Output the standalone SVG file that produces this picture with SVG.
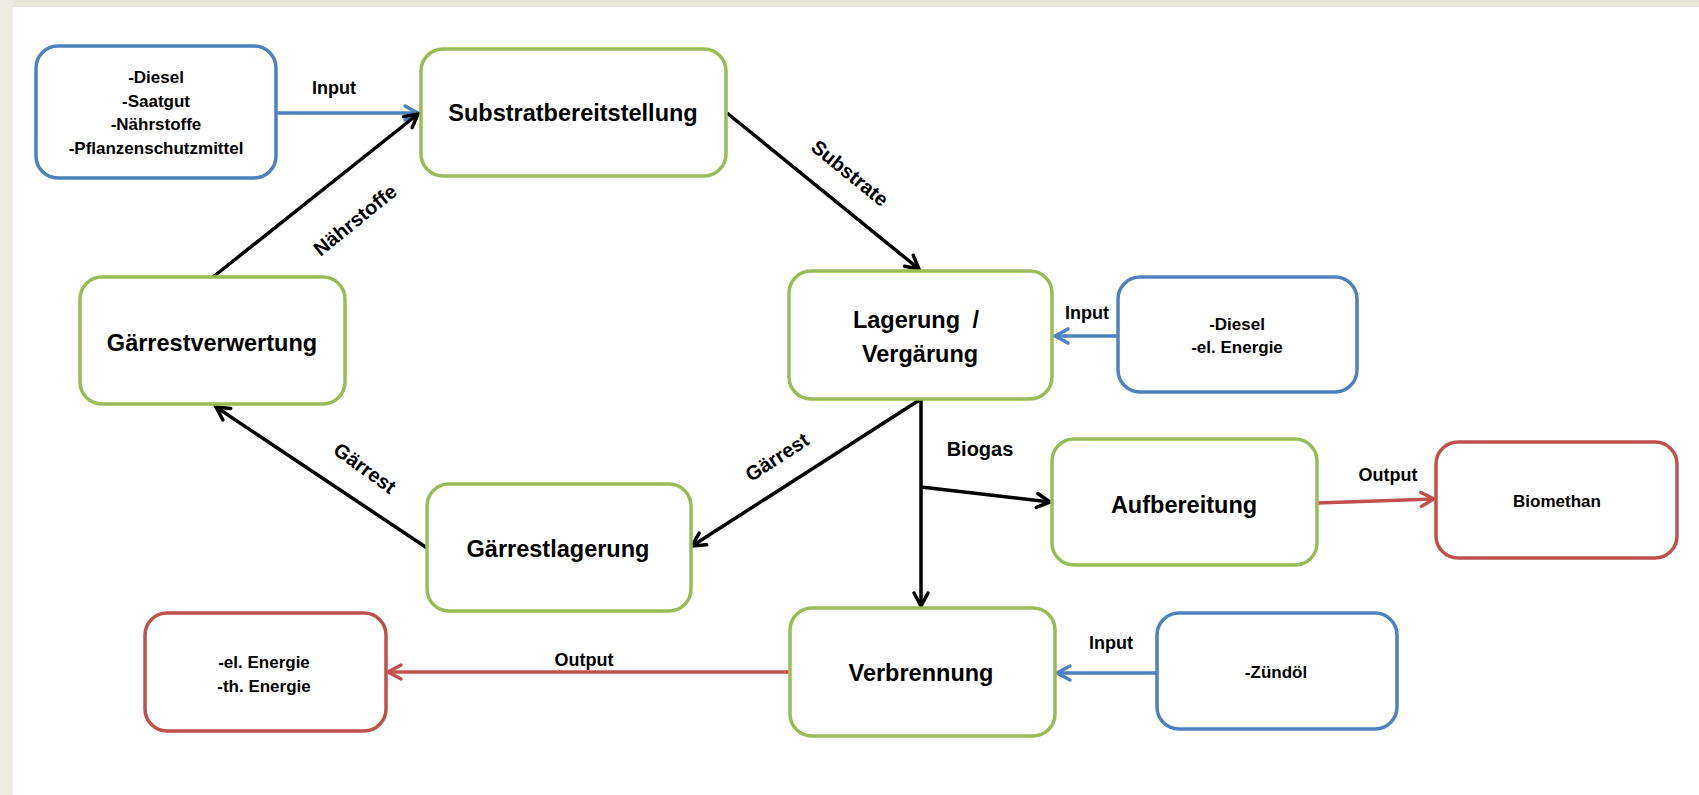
<svg xmlns="http://www.w3.org/2000/svg" width="1699" height="795" viewBox="0 0 1699 795">
<style>
.box{fill:#fff;stroke-width:3.5}
.g{stroke:#9BBB59}
.b{stroke:#4F81BD}
.r{stroke:#C0504D}
text{font-family:"Liberation Sans",Arial,sans-serif;font-weight:bold;fill:#000;text-anchor:middle}
.big{font-size:23.5px}
.sm{font-size:17px}
.el{font-size:18px}
.lab{font-size:20px}
.rot{font-size:20px;dominant-baseline:central}
.ln{fill:none;stroke-width:3.5}
.k{stroke:#000}
</style>
<defs>
<marker id="ak" markerUnits="userSpaceOnUse" markerWidth="30" markerHeight="30" refX="0" refY="0" orient="auto" overflow="visible" viewBox="-20 -15 30 30"><path d="M-13,-7 L0,0 L-13,7" fill="none" stroke="#000" stroke-width="3.5" stroke-linecap="round" stroke-linejoin="miter"/></marker>
<marker id="ab" markerUnits="userSpaceOnUse" markerWidth="30" markerHeight="30" refX="0" refY="0" orient="auto" overflow="visible" viewBox="-20 -15 30 30"><path d="M-13,-7 L0,0 L-13,7" fill="none" stroke="#4F81BD" stroke-width="3.5" stroke-linecap="round"/></marker>
<marker id="ar" markerUnits="userSpaceOnUse" markerWidth="30" markerHeight="30" refX="0" refY="0" orient="auto" overflow="visible" viewBox="-20 -15 30 30"><path d="M-13,-7 L0,0 L-13,7" fill="none" stroke="#C0504D" stroke-width="3.5" stroke-linecap="round"/></marker>
</defs>
<rect x="0" y="0" width="1699" height="795" fill="#fff"/>
<rect x="0" y="0" width="1699" height="7" fill="#ECE7DE"/>
<rect x="0" y="0" width="13" height="795" fill="#EEEBE4"/>

<g id="connectors">
<line class="ln b" x1="277" y1="113" x2="418" y2="113" marker-end="url(#ab)"/>
<line class="ln b" x1="1118" y1="336" x2="1055" y2="336" marker-end="url(#ab)"/>
<line class="ln b" x1="1156" y1="673" x2="1057" y2="673" marker-end="url(#ab)"/>
<line class="ln r" x1="1317" y1="503" x2="1434" y2="499" marker-end="url(#ar)"/>
<line class="ln r" x1="790" y1="672" x2="388" y2="672" marker-end="url(#ar)"/>
<line class="ln k" x1="727" y1="113" x2="919" y2="269" marker-end="url(#ak)"/>
<line class="ln k" x1="213" y1="277" x2="418" y2="114" marker-end="url(#ak)"/>
<line class="ln k" x1="427" y1="548" x2="216" y2="407" marker-end="url(#ak)"/>
<line class="ln k" x1="921" y1="399" x2="692" y2="546" marker-end="url(#ak)"/>
<line class="ln k" x1="921" y1="399" x2="921" y2="606" marker-end="url(#ak)"/>
<line class="ln k" x1="921" y1="487" x2="1050" y2="502" marker-end="url(#ak)"/>
<text class="el" x="334" y="94">Input</text>
<text class="el" x="1087" y="319">Input</text>
<text class="el" x="1111" y="649">Input</text>
<text class="el" x="1388" y="481">Output</text>
<text class="el" x="584" y="666">Output</text>
<text class="lab" x="980" y="456">Biogas</text>
<text class="rot" transform="translate(850,173) rotate(39)">Substrate</text>
<text class="rot" transform="translate(355,220) rotate(-39)">Nährstoffe</text>
<text class="rot" transform="translate(365,468) rotate(36)">Gärrest</text>
<text class="rot" transform="translate(777,457) rotate(-33)">Gärrest</text>
</g>

<g id="input1">
<rect class="box b" x="36" y="46" width="240" height="132" rx="22"/>
<text class="sm" x="156" y="83">-Diesel</text>
<text class="sm" x="156" y="107">-Saatgut</text>
<text class="sm" x="156" y="130">-Nährstoffe</text>
<text class="sm" x="156" y="154">-Pflanzenschutzmittel</text>
</g>
<g id="substratbereitstellung">
<rect class="box g" x="421" y="49" width="305" height="127" rx="22"/>
<text class="big" x="573" y="121">Substratbereitstellung</text>
</g>
<g id="gaerrestverwertung">
<rect class="box g" x="80" y="277" width="265" height="127" rx="22"/>
<text class="big" x="212" y="351">Gärrestverwertung</text>
</g>
<g id="lagerung">
<rect class="box g" x="789" y="271" width="263" height="128" rx="22"/>
<text class="big" x="916" y="328" word-spacing="6">Lagerung /</text>
<text class="big" x="920" y="362">Vergärung</text>
</g>
<g id="input2">
<rect class="box b" x="1118" y="277" width="239" height="115" rx="22"/>
<text class="sm" x="1237" y="330">-Diesel</text>
<text class="sm" x="1237" y="353">-el. Energie</text>
</g>
<g id="aufbereitung">
<rect class="box g" x="1052" y="439" width="265" height="126" rx="22"/>
<text class="big" x="1184" y="513">Aufbereitung</text>
</g>
<g id="biomethan">
<rect class="box r" x="1436" y="442" width="241" height="116" rx="22"/>
<text class="sm" x="1557" y="507">Biomethan</text>
</g>
<g id="gaerrestlagerung">
<rect class="box g" x="427" y="484" width="264" height="127" rx="22"/>
<text class="big" x="558" y="557">Gärrestlagerung</text>
</g>
<g id="verbrennung">
<rect class="box g" x="790" y="608" width="265" height="128" rx="22"/>
<text class="big" x="921" y="681">Verbrennung</text>
</g>
<g id="input3">
<rect class="box b" x="1157" y="613" width="240" height="116" rx="22"/>
<text class="sm" x="1276" y="678">-Zündöl</text>
</g>
<g id="output1">
<rect class="box r" x="145" y="613" width="241" height="118" rx="22"/>
<text class="sm" x="264" y="668">-el. Energie</text>
<text class="sm" x="264" y="692">-th. Energie</text>
</g>
</svg>
